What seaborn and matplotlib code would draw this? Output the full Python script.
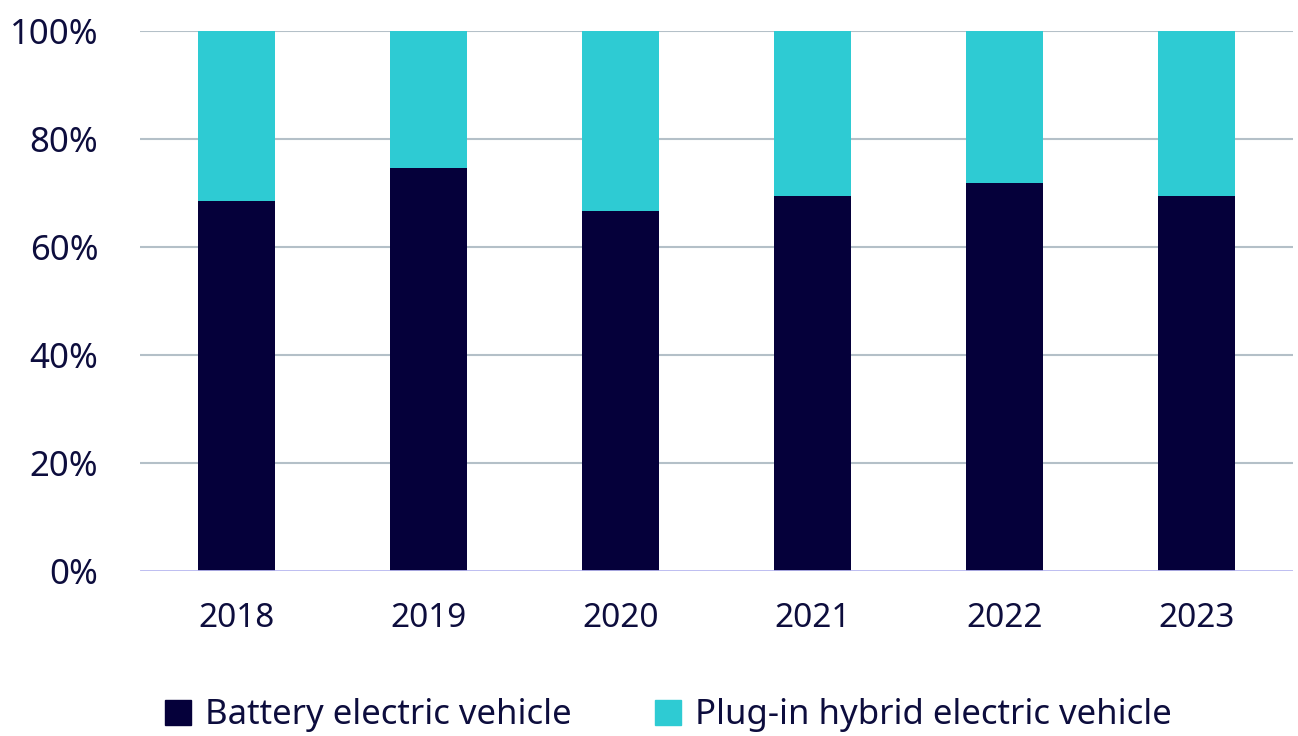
import matplotlib.pyplot as plt
import pandas as pd
import seaborn as sns
from matplotlib.patches import Patch

years = ["2018", "2019", "2020", "2021", "2022", "2023"]
battery = [68.5, 74.6, 66.7, 69.4, 71.9, 69.4]
plugin = [100 - b for b in battery]

dark = "#05003a"
teal = "#2ecbd3"
text_col = "#0d0d3d"

df = pd.DataFrame({"year": years, "battery": battery, "plugin": plugin})
df["total"] = df["battery"] + df["plugin"]

sns.set_style("white")
plt.rcParams["font.family"] = ["Noto Sans", "DejaVu Sans"]

fig = plt.figure(figsize=(12.98, 7.36), dpi=100)
ax = fig.add_axes([140 / 1298, 1 - 571 / 736, (1293 - 140) / 1298, 540 / 736])

for y in [20, 40, 60, 80, 100]:
    ax.axhline(y, color="#b4c0c8", lw=1.5, zorder=0)

sns.barplot(data=df, x="year", y="total", color=teal, width=0.4,
            saturation=1, linewidth=0, ax=ax, zorder=2)
sns.barplot(data=df, x="year", y="battery", color=dark, width=0.4,
            saturation=1, linewidth=0, ax=ax, zorder=3)
ax.axhline(0, color="#b8b8f0", lw=2, zorder=4)

ax.set_ylim(0, 100)
ax.set_xlim(-0.5, 5.5)
ax.set_yticks([0, 20, 40, 60, 80, 100])
ax.set_yticklabels([f"{v}%" for v in [0, 20, 40, 60, 80, 100]])
ax.set_xlabel("")
ax.set_ylabel("")
ax.tick_params(axis="y", length=0, pad=30, labelsize=25, labelcolor=text_col)
ax.tick_params(axis="x", length=0, pad=22, labelsize=24, labelcolor=text_col)
for s in ax.spines.values():
    s.set_visible(False)

handles = [Patch(color=dark, label="Battery electric vehicle"),
           Patch(color=teal, label="Plug-in hybrid electric vehicle")]
fig.legend(handles=handles, loc="center", bbox_to_anchor=(0.515, 0.028),
           ncol=2, frameon=False, fontsize=25, handlelength=0.75,
           handleheight=0.75, handletextpad=0.4, columnspacing=2.4,
           labelcolor=text_col)

fig.savefig("out.png", dpi=100)
